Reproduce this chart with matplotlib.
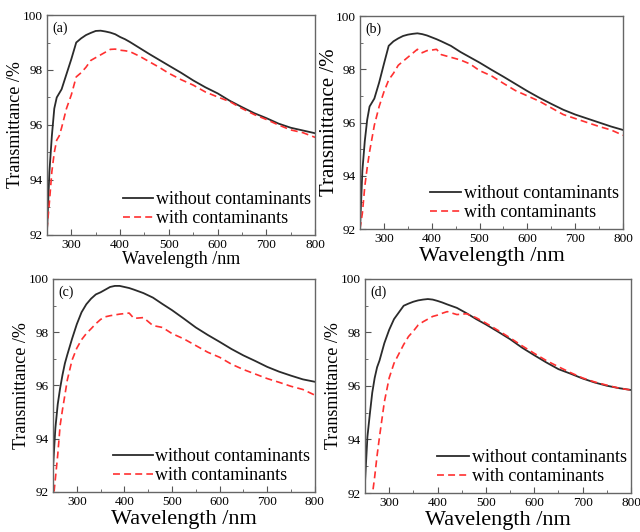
import matplotlib
matplotlib.use('Agg')
import matplotlib.pyplot as plt
from matplotlib.ticker import MultipleLocator

plt.rcParams['font.family'] = ['Liberation Serif', 'DejaVu Serif']
plt.rcParams['lines.scale_dashes'] = False

# wavelength grid (nm), same for every panel
wl = [250, 255, 260, 265, 270, 275, 280, 290, 300, 310, 320, 330, 340, 350, 360,
      370, 380, 390, 400, 410, 420, 440, 460, 480, 500, 525, 550, 575, 600, 625,
      650, 675, 700, 725, 750, 775, 800]

# (a)
without_a = [92.1, 94.3, 95.6, 96.6, 97.0, 97.15, 97.3, 97.85, 98.4, 99.0, 99.15,
             99.27, 99.35, 99.42, 99.43, 99.4, 99.36, 99.3, 99.2, 99.12, 99.02,
             98.8, 98.58, 98.37, 98.16, 97.9, 97.62, 97.37, 97.15, 96.88, 96.65,
             96.43, 96.25, 96.05, 95.9, 95.8, 95.7]
with_a = [92.2, 93.2, 94.3, 95.0, 95.45, 95.6, 95.9, 96.6, 97.1, 97.75, 97.9,
          98.1, 98.35, 98.45, 98.55, 98.65, 98.75, 98.76, 98.72, 98.7, 98.67,
          98.5, 98.3, 98.1, 97.88, 97.65, 97.45, 97.2, 97.02, 96.85, 96.6,
          96.38, 96.2, 96.0, 95.82, 95.72, 95.55]

# (b)
without_b = [92.0, 94.2, 95.3, 96.1, 96.6, 96.75, 96.9, 97.5, 98.2, 98.88, 99.05,
             99.16, 99.25, 99.3, 99.33, 99.35, 99.32, 99.27, 99.2, 99.13, 99.05,
             98.88, 98.65, 98.45, 98.25, 97.98, 97.72, 97.45, 97.18, 96.93, 96.7,
             96.48, 96.3, 96.15, 96.0, 95.85, 95.72]
with_b = [92.0, 92.6, 93.6, 94.3, 94.9, 95.4, 95.9, 96.6, 97.15, 97.6, 97.85,
          98.15, 98.3, 98.45, 98.6, 98.75, 98.62, 98.7, 98.72, 98.75, 98.55,
          98.45, 98.35, 98.2, 97.95, 97.75, 97.47, 97.2, 97.0, 96.8, 96.55,
          96.3, 96.15, 96.0, 95.85, 95.72, 95.52]

# (c)
without_c = [92.9, 94.4, 95.3, 95.9, 96.4, 96.83, 97.15, 97.75, 98.3, 98.75, 99.05,
             99.26, 99.42, 99.5, 99.6, 99.7, 99.74, 99.74, 99.7, 99.66, 99.6,
             99.47, 99.3, 99.06, 98.83, 98.51, 98.18, 97.9, 97.64, 97.37, 97.13,
             96.92, 96.7, 96.52, 96.37, 96.23, 96.14]
with_c = [91.6, 92.5, 93.4, 94.5, 95.1, 95.64, 96.2, 96.95, 97.4, 97.72, 97.95,
          98.13, 98.32, 98.48, 98.58, 98.62, 98.65, 98.68, 98.7, 98.72, 98.52,
          98.55, 98.25, 98.18, 97.95, 97.75, 97.5, 97.25, 97.06, 96.8, 96.6,
          96.43, 96.26, 96.12, 95.97, 95.85, 95.64]

# (d)
without_d = [92.4, 94.1, 94.95, 95.75, 96.3, 96.7, 96.95, 97.6, 98.1, 98.5, 98.75,
             99.0, 99.08, 99.15, 99.2, 99.23, 99.25, 99.23, 99.18, 99.12, 99.05,
             98.92, 98.72, 98.5, 98.3, 98.03, 97.75, 97.43, 97.15, 96.88, 96.63,
             96.46, 96.28, 96.13, 96.01, 95.92, 95.85]
with_d = [90.5, 91.0, 91.4, 91.9, 92.6, 93.4, 94.1, 95.4, 96.3, 96.85, 97.2,
          97.55, 97.85, 98.05, 98.28, 98.4, 98.5, 98.6, 98.65, 98.72, 98.78,
          98.67, 98.7, 98.55, 98.35, 98.08, 97.8, 97.5, 97.22, 96.95, 96.72,
          96.5, 96.3, 96.15, 96.03, 95.92, 95.85]

# tag, series, axes rect, xlabel size, ylabel size, xlabel pad, ylabel pad, handle length
panels = [
    ('(a)', without_a, with_a, [0.0734, 0.5583, 0.419, 0.4135], 13, 13, 0, -1, 1.7),
    ('(b)', without_b, with_b, [0.5625, 0.5695, 0.411, 0.4004], 16, 15, 1, -2, 1.7),
    ('(c)', without_c, with_c, [0.0828, 0.0752, 0.409, 0.4004], 16, 13, 1, -1, 2.2),
    ('(d)', without_d, with_d, [0.5703, 0.0733, 0.4156, 0.4023], 16, 13, 1, -1, 1.8),
]

fig = plt.figure(figsize=(6.4, 5.32), dpi=100)

for tag, y1, y2, rect, xl_size, yl_size, xpad, ypad, hl in panels:
    ax = fig.add_axes(rect)
    ax.plot(wl, y1, color='#2b2b2b', lw=1.3, label='without contaminants')
    ax.plot(wl, y2, color='#ff3030', lw=1.2, dashes=(5, 3), label='with contaminants')
    ax.set_xlim(250, 800)
    ax.set_ylim(92, 100)
    ax.xaxis.set_major_locator(MultipleLocator(100))
    ax.xaxis.set_minor_locator(MultipleLocator(50))
    ax.yaxis.set_major_locator(MultipleLocator(2))
    ax.yaxis.set_minor_locator(MultipleLocator(1))
    ax.tick_params(which='both', direction='in', top=False, right=False,
                   labelsize=9.5, pad=3, color='#555555')
    ax.tick_params(which='major', length=4)
    ax.tick_params(which='minor', length=2.5)
    for s in ax.spines.values():
        s.set_color('#666666')
        s.set_linewidth(1.0)
    ax.set_xlabel('Wavelength /nm', fontsize=xl_size, labelpad=xpad)
    ax.set_ylabel('Transmittance /%', fontsize=yl_size, labelpad=ypad)
    ax.text(0.02, 0.97, tag, transform=ax.transAxes, fontsize=10, va='top', ha='left')
    ax.legend(loc='lower right', bbox_to_anchor=(1.025, -0.015), frameon=False,
              fontsize=13, handlelength=hl, handletextpad=0.15, labelspacing=0.12,
              borderpad=0.1)

fig.savefig('out.png', dpi=100)
